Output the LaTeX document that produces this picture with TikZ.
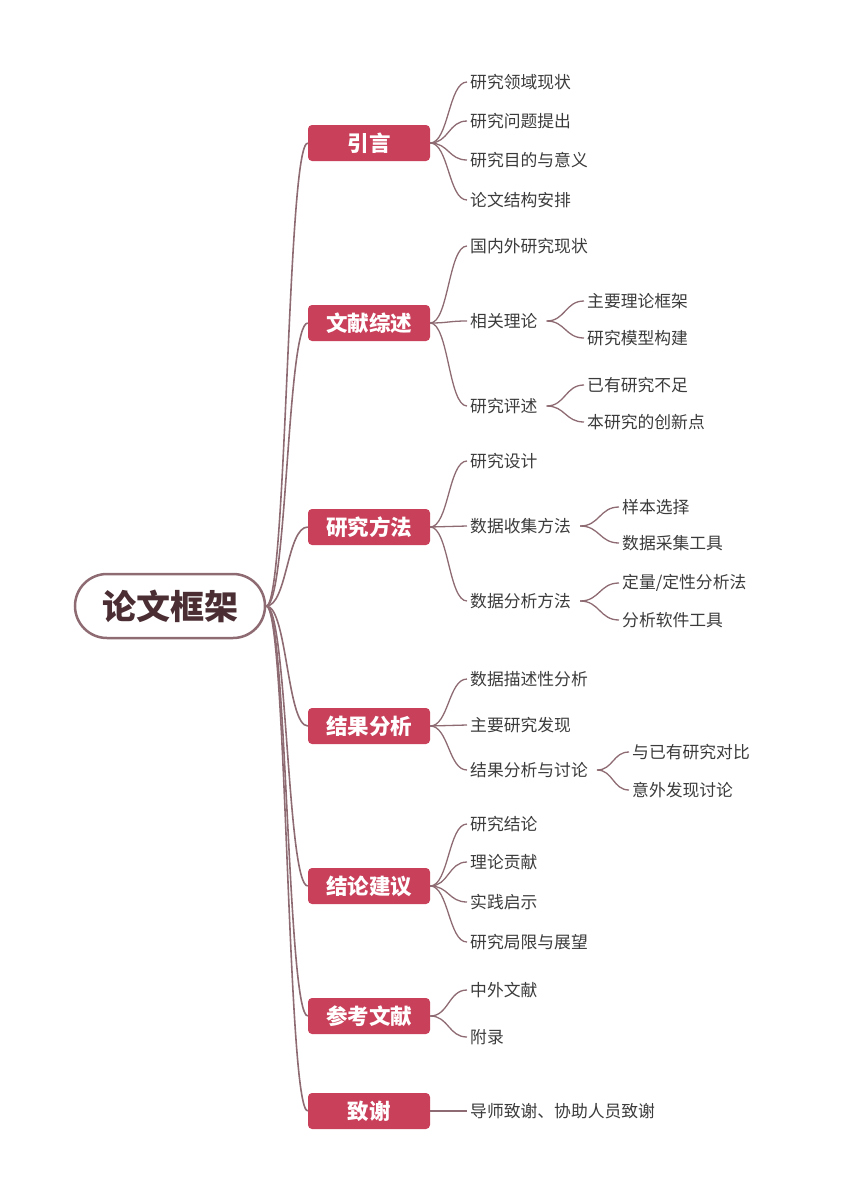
\documentclass[tikz,border=0pt]{standalone}
\usepackage{fontspec}
\setmainfont{Noto Sans CJK SC}
\usetikzlibrary{calc}
\definecolor{branchred}{HTML}{C9405A}
\definecolor{linkgray}{HTML}{8E6B73}
\definecolor{leaftext}{HTML}{3B3B3B}
\definecolor{roottext}{HTML}{4A2E33}

\begin{document}
\begin{tikzpicture}[
  x=1pt, y=-1pt,
  root/.style={draw=linkgray, line width=2.5pt, rounded corners=32pt, minimum width=190pt,
    minimum height=64pt, font=\fontsize{34}{38}\selectfont\bfseries, text=roottext},
  branch/.style={fill=branchred, rounded corners=4pt, minimum width=122pt, minimum height=36pt,
    text=white, font=\fontsize{21.5}{24}\selectfont\bfseries},
  leaf/.style={anchor=west, inner sep=3pt, text=leaftext, font=\fontsize{16.8}{19}\selectfont},
  link/.style={draw=linkgray, line width=1.3pt, to path={(\tikztostart) .. controls
    ($(\tikztostart)!0.5!(\tikztostart-|\tikztotarget)$) and
    ($(\tikztotarget)!0.5!(\tikztotarget-|\tikztostart)$) .. (\tikztotarget)}}
]
\useasboundingbox (0,0) rectangle (848,1200);

% root
\node[root] (root) at (170,606) {论文框架};

% main branches
\foreach \n/\y/\t in {intro/143/引言, review/323/文献综述, method/527/研究方法,
    result/726/结果分析, concl/886/结论建议, refs/1016/参考文献, thanks/1111/致谢} {
  \node[branch] (\n) at (369,\y) {\t};
  \draw[link, line width=1.6pt] (root.east) to (\n.west);
}

% leaves: parent/name/y/text
\foreach \p/\n/\y/\t in {
    intro/i1/82/研究领域现状, intro/i2/121/研究问题提出, intro/i3/160/研究目的与意义, intro/i4/200/论文结构安排,
    review/r1/246/国内外研究现状, review/r2/321/相关理论, review/r3/406/研究评述,
    method/m1/461/研究设计, method/m2/526/数据收集方法, method/m3/601/数据分析方法,
    result/s1/679/数据描述性分析, result/s2/725/主要研究发现, result/s3/770/结果分析与讨论,
    concl/c1/824/研究结论, concl/c2/862/理论贡献, concl/c3/902/实践启示, concl/c4/942/研究局限与展望,
    refs/f1/990/中外文献, refs/f2/1037/附录, thanks/t1/1111/导师致谢、协助人员致谢} {
  \node[leaf] (\n) at (467,\y) {\t};
  \draw[link] (\p.east) to (\n.west);
}

% third level: parent/name/x/y/text
\foreach \p/\n/\x/\y/\t in {
    r2/r21/584/301/主要理论框架, r2/r22/584/338/研究模型构建,
    r3/r31/584/385/已有研究不足, r3/r32/584/422/本研究的创新点,
    m2/m21/619/507/样本选择, m2/m22/619/543/数据采集工具,
    m3/m31/619/583/{定量/定性分析法}, m3/m32/619/620/分析软件工具,
    s3/s31/629/752/与已有研究对比, s3/s32/629/790/意外发现讨论} {
  \node[leaf] (\n) at (\x,\y) {\t};
  \draw[link] ([xshift=6pt]\p.east) to (\n.west);
}
\end{tikzpicture}
\end{document}
